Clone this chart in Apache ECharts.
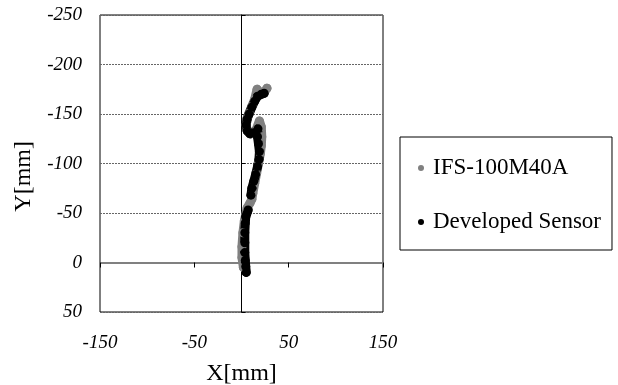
<!DOCTYPE html>
<html>
<head>
<meta charset="utf-8">
<script src="https://cdn.jsdelivr.net/npm/echarts@6/dist/echarts.min.js"></script>
<style>html,body{margin:0;padding:0;background:#fff}#c{width:618px;height:385px}</style>
</head>
<body>
<div id="c"></div>
<script>
// Tick settings
const xTicks = [-150, -50, 50, 150];
const yTicks = [-250, -200, -150, -100, -50, 0, 50];
const seriesNames = ['IFS-100M40A', 'Developed Sensor'];

// IFS-100M40A trajectory (mm)
const ifsX = [2, 0.5, 0.5, 1.5, 3, 6, 9, 11, 12, 14, 16, 18, 20, 21, 21.5, 21, 19, 15, 10, 6, 5, 6, 8, 11, 14, 16.5, 20, 24, 27];
const ifsY = [5, -5, -16, -30, -42, -55, -60, -64, -70, -80, -90, -100, -110, -118, -127, -137, -143, -133, -130, -133, -139, -146, -151, -158, -165, -175, -171, -172, -176];

// Developed Sensor trajectory (mm); null marks a gap
const sensorX = [5, 4.5, 4, 3.5, 3.5, 3.5, 4, 4.5, 7, null, 10, 11, 13, 15, 17, 18.5, 19, 18, 17, 17.5, 13, 9, 6, 5, 6, 8, 11, 14, 17, 21, 24];
const sensorY = [10, 4, -2, -10, -20, -30, -40, -46, -53, null, -68, -75, -82, -89, -97, -104, -112, -120, -127, -135, -131, -130, -133, -139, -145, -150, -157, -163, -168, -170, -171];

function pairs(xs, ys) {
  return xs.map((x, i) => (x === null || ys[i] === null) ? [NaN, NaN] : [x, ys[i]]);
}

const serif = '"Liberation Serif", "Times New Roman", serif';
const chart = echarts.init(document.getElementById('c'), null, {renderer: 'canvas'});
chart.setOption({
  animation: false,
  backgroundColor: '#fff',
  grid: {left: 100, right: 235, top: 15, bottom: 73, show: true, borderColor: '#000', borderWidth: 1, containLabel: false, outerBoundsMode: 'none'},
  legend: {
    orient: 'vertical', left: 400, top: 137,
    data: seriesNames.map(n => ({name: n, icon: 'circle'})),
    itemWidth: 6, itemHeight: 6, itemGap: 28,
    padding: [18, 11, 15, 18],
    borderColor: '#000', borderWidth: 1,
    textStyle: {fontFamily: serif, fontSize: 23, color: '#000', lineHeight: 26, padding: [0, 0, 0, 4]}
  },
  graphic: [{
    type: 'text', left: 12, top: 141, rotation: Math.PI / 2,
    style: {text: 'Y[mm]', font: '24px ' + serif, fill: '#000'}
  }],
  xAxis: [{
    type: 'value', min: xTicks[0], max: xTicks[xTicks.length - 1], interval: 100,
    axisLine: {show: false, onZero: false}, axisTick: {show: false}, splitLine: {show: false},
    axisLabel: {fontFamily: serif, fontStyle: 'italic', fontSize: 19, color: '#000', margin: 21},
    name: 'X[mm]', nameLocation: 'middle', nameGap: 50,
    nameTextStyle: {fontFamily: serif, fontSize: 24, color: '#000'}
  }, {
    type: 'value', min: xTicks[0], max: xTicks[xTicks.length - 1], interval: 100, position: 'bottom',
    axisLine: {show: true, onZero: true, lineStyle: {color: '#808080', width: 2}},
    axisTick: {show: true, length: 5, lineStyle: {color: '#000'}},
    axisLabel: {show: false}, splitLine: {show: false}
  }],
  yAxis: [{
    type: 'value', inverse: true, min: yTicks[0], max: yTicks[yTicks.length - 1], interval: 50,
    axisLine: {show: false, onZero: false}, axisTick: {show: false},
    splitLine: {show: true, lineStyle: {color: '#666', type: [2, 1], width: 1}},
    axisLabel: {fontFamily: serif, fontStyle: 'italic', fontSize: 19, color: '#000', margin: 18}
  }, {
    type: 'value', inverse: true, min: yTicks[0], max: yTicks[yTicks.length - 1], interval: 50, position: 'left',
    axisLine: {show: true, onZero: true, lineStyle: {color: '#000', width: 1}},
    axisTick: {show: true, inside: true, length: 4, lineStyle: {color: '#000'}},
    axisLabel: {show: false}, splitLine: {show: false}
  }],
  series: [{
    name: seriesNames[0], type: 'line', xAxisIndex: 0, yAxisIndex: 0,
    data: pairs(ifsX, ifsY), symbol: 'circle', symbolSize: 9, showSymbol: true,
    itemStyle: {color: '#808080'},
    lineStyle: {color: '#808080', width: 9, cap: 'round', join: 'round'}
  }, {
    name: seriesNames[1], type: 'line', xAxisIndex: 0, yAxisIndex: 0,
    data: pairs(sensorX, sensorY), symbol: 'circle', symbolSize: 9, showSymbol: true,
    itemStyle: {color: '#000'},
    lineStyle: {color: '#000', width: 9, cap: 'round', join: 'round'}
  }]
});
</script>
</body>
</html>
